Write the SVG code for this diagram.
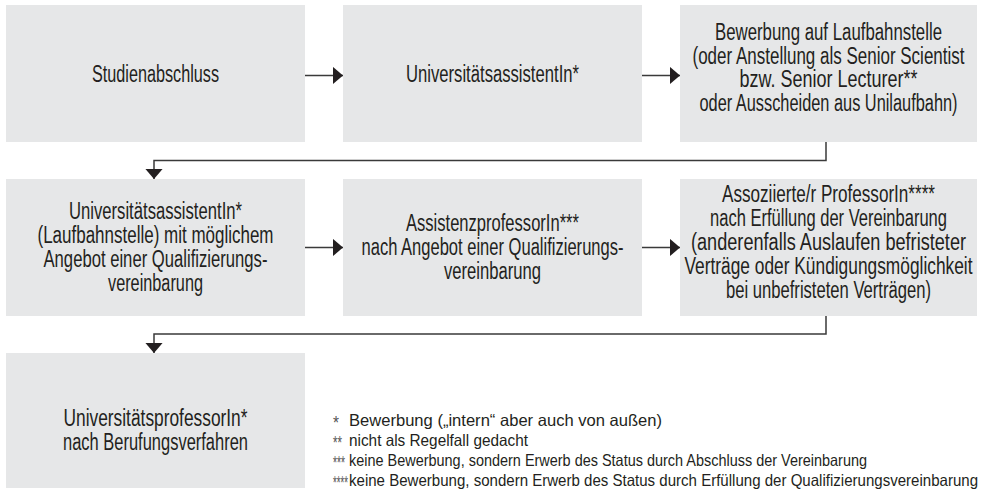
<svg xmlns="http://www.w3.org/2000/svg" width="981" height="495" viewBox="0 0 981 495">
<style>
.box{fill:#e6e7e8}
.t{font-family:"Liberation Sans",Arial,sans-serif;font-size:23px;fill:#231f20;text-anchor:middle}
.l{font-family:"Liberation Sans",Arial,sans-serif;font-size:16.5px;fill:#231f20}
.s{font-family:"Liberation Sans",Arial,sans-serif;font-size:18px;fill:#555}
.c{fill:none;stroke:#3a3a3a;stroke-width:1.5}
</style>
<defs>
<marker id="ah" markerUnits="userSpaceOnUse" markerWidth="11" markerHeight="19" refX="10.5" refY="9" orient="auto"><path d="M0,0 L10.5,9 L0,18 z" fill="#231f20"/></marker>
</defs>
<rect width="981" height="495" fill="#fff"/>
<g id="n1"><rect class="box" x="6" y="5" width="299" height="137"/>
<text class="t" x="155.5" y="81.5" textLength="127" lengthAdjust="spacingAndGlyphs">Studienabschluss</text></g>
<g id="n2"><rect class="box" x="343" y="5" width="299" height="137"/>
<text class="t" x="492.5" y="81.5" textLength="173" lengthAdjust="spacingAndGlyphs">UniversitätsassistentIn*</text></g>
<g id="n3"><rect class="box" x="680" y="5" width="297" height="137"/>
<text class="t" x="828.5" y="40" textLength="227" lengthAdjust="spacingAndGlyphs">Bewerbung auf Laufbahnstelle</text>
<text class="t" x="828.5" y="63.5" textLength="272" lengthAdjust="spacingAndGlyphs">(oder Anstellung als Senior Scientist</text>
<text class="t" x="828.5" y="87" textLength="178" lengthAdjust="spacingAndGlyphs">bzw. Senior Lecturer**</text>
<text class="t" x="828.5" y="110.5" textLength="258" lengthAdjust="spacingAndGlyphs">oder Ausscheiden aus Unilaufbahn)</text></g>
<g id="n4"><rect class="box" x="6" y="179" width="299" height="137"/>
<text class="t" x="155.5" y="218.5" textLength="173" lengthAdjust="spacingAndGlyphs">UniversitätsassistentIn*</text>
<text class="t" x="155.5" y="242.5" textLength="236" lengthAdjust="spacingAndGlyphs">(Laufbahnstelle) mit möglichem</text>
<text class="t" x="155.5" y="266.5" textLength="224" lengthAdjust="spacingAndGlyphs">Angebot einer Qualifizierungs-</text>
<text class="t" x="155.5" y="290.5" textLength="95" lengthAdjust="spacingAndGlyphs">vereinbarung</text></g>
<g id="n5"><rect class="box" x="343" y="179" width="299" height="137"/>
<text class="t" x="492.5" y="230.5" textLength="173" lengthAdjust="spacingAndGlyphs">AssistenzprofessorIn***</text>
<text class="t" x="492.5" y="254.5" textLength="262" lengthAdjust="spacingAndGlyphs">nach Angebot einer Qualifizierungs-</text>
<text class="t" x="492.5" y="278.5" textLength="97" lengthAdjust="spacingAndGlyphs">vereinbarung</text></g>
<g id="n6"><rect class="box" x="680" y="179" width="297" height="137"/>
<text class="t" x="828.5" y="201.5" textLength="213" lengthAdjust="spacingAndGlyphs">Assoziierte/r ProfessorIn****</text>
<text class="t" x="828.5" y="225.5" textLength="237" lengthAdjust="spacingAndGlyphs">nach Erfüllung der Vereinbarung</text>
<text class="t" x="828.5" y="249.5" textLength="275" lengthAdjust="spacingAndGlyphs">(anderenfalls Auslaufen befristeter</text>
<text class="t" x="828.5" y="273.5" textLength="288" lengthAdjust="spacingAndGlyphs">Verträge oder Kündigungsmöglichkeit</text>
<text class="t" x="828.5" y="297.5" textLength="205" lengthAdjust="spacingAndGlyphs">bei unbefristeten Verträgen)</text></g>
<g id="n7"><rect class="box" x="6" y="353" width="299" height="135"/>
<text class="t" x="155.5" y="425.5" textLength="184" lengthAdjust="spacingAndGlyphs">UniversitätsprofessorIn*</text>
<text class="t" x="155.5" y="449.5" textLength="185" lengthAdjust="spacingAndGlyphs">nach Berufungsverfahren</text></g>
<g id="legend">
<text class="s" x="333" y="429" textLength="6" lengthAdjust="spacingAndGlyphs">*</text>
<text class="s" x="333" y="449" textLength="9" lengthAdjust="spacingAndGlyphs">**</text>
<text class="s" x="333" y="469" textLength="12" lengthAdjust="spacingAndGlyphs">***</text>
<text class="s" x="333" y="489" textLength="15" lengthAdjust="spacingAndGlyphs">****</text>
<text class="l" x="349" y="426" textLength="313" lengthAdjust="spacingAndGlyphs">Bewerbung („intern“ aber auch von außen)</text>
<text class="l" x="349" y="446" textLength="179" lengthAdjust="spacingAndGlyphs">nicht als Regelfall gedacht</text>
<text class="l" x="349" y="466" textLength="518" lengthAdjust="spacingAndGlyphs">keine Bewerbung, sondern Erwerb des Status durch Abschluss der Vereinbarung</text>
<text class="l" x="349" y="486" textLength="629" lengthAdjust="spacingAndGlyphs">keine Bewerbung, sondern Erwerb des Status durch Erfüllung der Qualifizierungsvereinbarung</text>
</g>
<g id="connectors">
<path class="c" d="M305,75.5 H343" marker-end="url(#ah)"/>
<path class="c" d="M642,75.5 H680" marker-end="url(#ah)"/>
<path class="c" d="M826,142 V160.5 H154 V179" marker-end="url(#ah)"/>
<path class="c" d="M305,247.5 H343" marker-end="url(#ah)"/>
<path class="c" d="M642,247.5 H680" marker-end="url(#ah)"/>
<path class="c" d="M826,316 V334 H154 V353" marker-end="url(#ah)"/>
</g>
</svg>
